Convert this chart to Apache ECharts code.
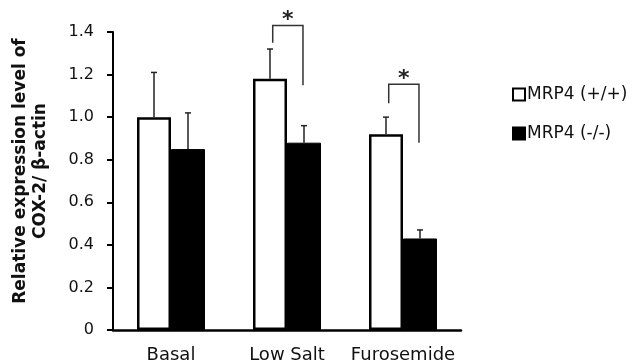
<!DOCTYPE html>
<html>
<head>
<meta charset="utf-8">
<script src="https://cdn.jsdelivr.net/npm/echarts@6/dist/echarts.min.js"></script>
<style>
  html, body { margin: 0; padding: 0; background: #fff; }
  #chart { width: 633px; height: 364px; }
</style>
</head>
<body>
<div id="chart"></div>
<script>
// Treatment groups
var categories = ['Basal', 'Low Salt', 'Furosemide'];

// Mean relative COX-2 / β-actin expression
var wildType = [1.00, 1.18, 0.92];   // MRP4 (+/+)
var knockout = [0.85, 0.88, 0.43];   // MRP4 (-/-)

// Upper error (SD) per bar
var wildTypeErr = [0.21, 0.14, 0.08];
var knockoutErr = [0.17, 0.08, 0.04];

// Significance brackets: [category index, bracket top, left leg end, right leg end]
var brackets = [
  [1, 1.43, 1.35, 1.15],
  [2, 1.155, 1.065, 0.88]
];

var yTicks = [0, 0.2, 0.4, 0.6, 0.8, 1.0, 1.2, 1.4];

var FONT = 'DejaVu Sans';
var BAR_W = 34;

var chart = echarts.init(document.getElementById('chart'), null, { renderer: 'canvas' });

// Whisker above each bar; side = -1 for the left bar of a pair, +1 for the right one
function errorRenderer(side) {
  return function (params, api) {
    var idx = api.value(0);
    var top = api.coord([idx, api.value(2)]);
    var base = api.coord([idx, api.value(1)]);
    var x = top[0] + side * BAR_W / 2;
    var cap = 3;
    return {
      type: 'group',
      children: [
        { type: 'line', shape: { x1: x, y1: base[1], x2: x, y2: top[1] },
          style: { stroke: '#222', lineWidth: 1.5 } },
        { type: 'line', shape: { x1: x - cap, y1: top[1], x2: x + cap, y2: top[1] },
          style: { stroke: '#222', lineWidth: 1.5 } }
      ]
    };
  };
}

function errorData(means, errs) {
  return means.map(function (m, i) { return [i, m, m + errs[i]]; });
}

chart.setOption({
  backgroundColor: '#fff',
  animation: false,
  grid: { left: 113, right: 172, top: 32, bottom: 34, outerBoundsMode: 'none', containLabel: false },
  legend: {
    orient: 'vertical',
    left: 507,
    top: 81,
    itemWidth: 12,
    itemHeight: 12,
    itemGap: 22,
    icon: 'rect',
    data: ['MRP4 (+/+)', 'MRP4 (-/-)'],
    textStyle: { fontFamily: FONT, fontSize: 17, color: '#111', padding: [0, 0, 0, -3] }
  },
  xAxis: {
    type: 'category',
    data: categories,
    axisLine: { lineStyle: { color: '#000', width: 2.5 } },
    axisTick: { show: false },
    axisLabel: { fontFamily: FONT, fontSize: 18, color: '#111', margin: 16, interval: 0 }
  },
  yAxis: {
    type: 'value',
    min: 0,
    max: 1.4,
    interval: 0.2,
    name: 'Relative expression level of\nCOX-2/ β-actin',
    nameLocation: 'middle',
    nameGap: 62,
    nameTextStyle: { fontFamily: FONT, fontSize: 17, fontWeight: 'bold', color: '#111',
                     lineHeight: 20, padding: [0, 0, 0, 20] },
    axisLine: { show: true, lineStyle: { color: '#000', width: 2 } },
    axisTick: { show: true, length: 6, lineStyle: { color: '#000', width: 2 } },
    splitLine: { show: false },
    axisLabel: {
      fontFamily: FONT, fontSize: 16, color: '#111', margin: 19,
      customValues: yTicks,
      formatter: function (v) { return v === 0 ? '0' : v.toFixed(1); }
    }
  },
  series: [
    {
      name: 'MRP4 (+/+)',
      type: 'bar',
      data: wildType,
      barWidth: BAR_W,
      barGap: '0%',
      itemStyle: { color: '#fff', borderColor: '#000', borderWidth: 2.5 },
      z: 2
    },
    {
      name: 'MRP4 (-/-)',
      type: 'bar',
      data: knockout,
      barWidth: BAR_W,
      barGap: '0%',
      itemStyle: { color: '#000', borderColor: '#000', borderWidth: 1 },
      z: 3
    },
    {
      type: 'custom',
      renderItem: errorRenderer(-1),
      data: errorData(wildType, wildTypeErr),
      encode: { x: 0, y: [1, 2] },
      z: 4,
      silent: true
    },
    {
      type: 'custom',
      renderItem: errorRenderer(1),
      data: errorData(knockout, knockoutErr),
      encode: { x: 0, y: [1, 2] },
      z: 4,
      silent: true
    },
    {
      type: 'custom',
      clip: false,
      silent: true,
      data: brackets,
      encode: { x: 0, y: [1, 2, 3] },
      z: 5,
      renderItem: function (params, api) {
        var idx = api.value(0);
        var topPt = api.coord([idx, api.value(1)]);
        var leftEnd = api.coord([idx, api.value(2)]);
        var rightEnd = api.coord([idx, api.value(3)]);
        var xl = topPt[0] - BAR_W * 0.42;
        var xr = topPt[0] + BAR_W * 0.47;
        var style = { stroke: '#333', lineWidth: 1.5, fill: null };
        return {
          type: 'group',
          children: [
            { type: 'polyline',
              shape: { points: [[xl, leftEnd[1]], [xl, topPt[1]], [xr, topPt[1]], [xr, rightEnd[1]]] },
              style: style },
            { type: 'text',
              style: { text: '*', x: (xl + xr) / 2, y: topPt[1] - 5,
                       fontFamily: FONT, fontSize: 22, fontWeight: 'bold', fill: '#222',
                       align: 'center', verticalAlign: 'middle' } }
          ]
        };
      }
    }
  ]
});
</script>
</body>
</html>
